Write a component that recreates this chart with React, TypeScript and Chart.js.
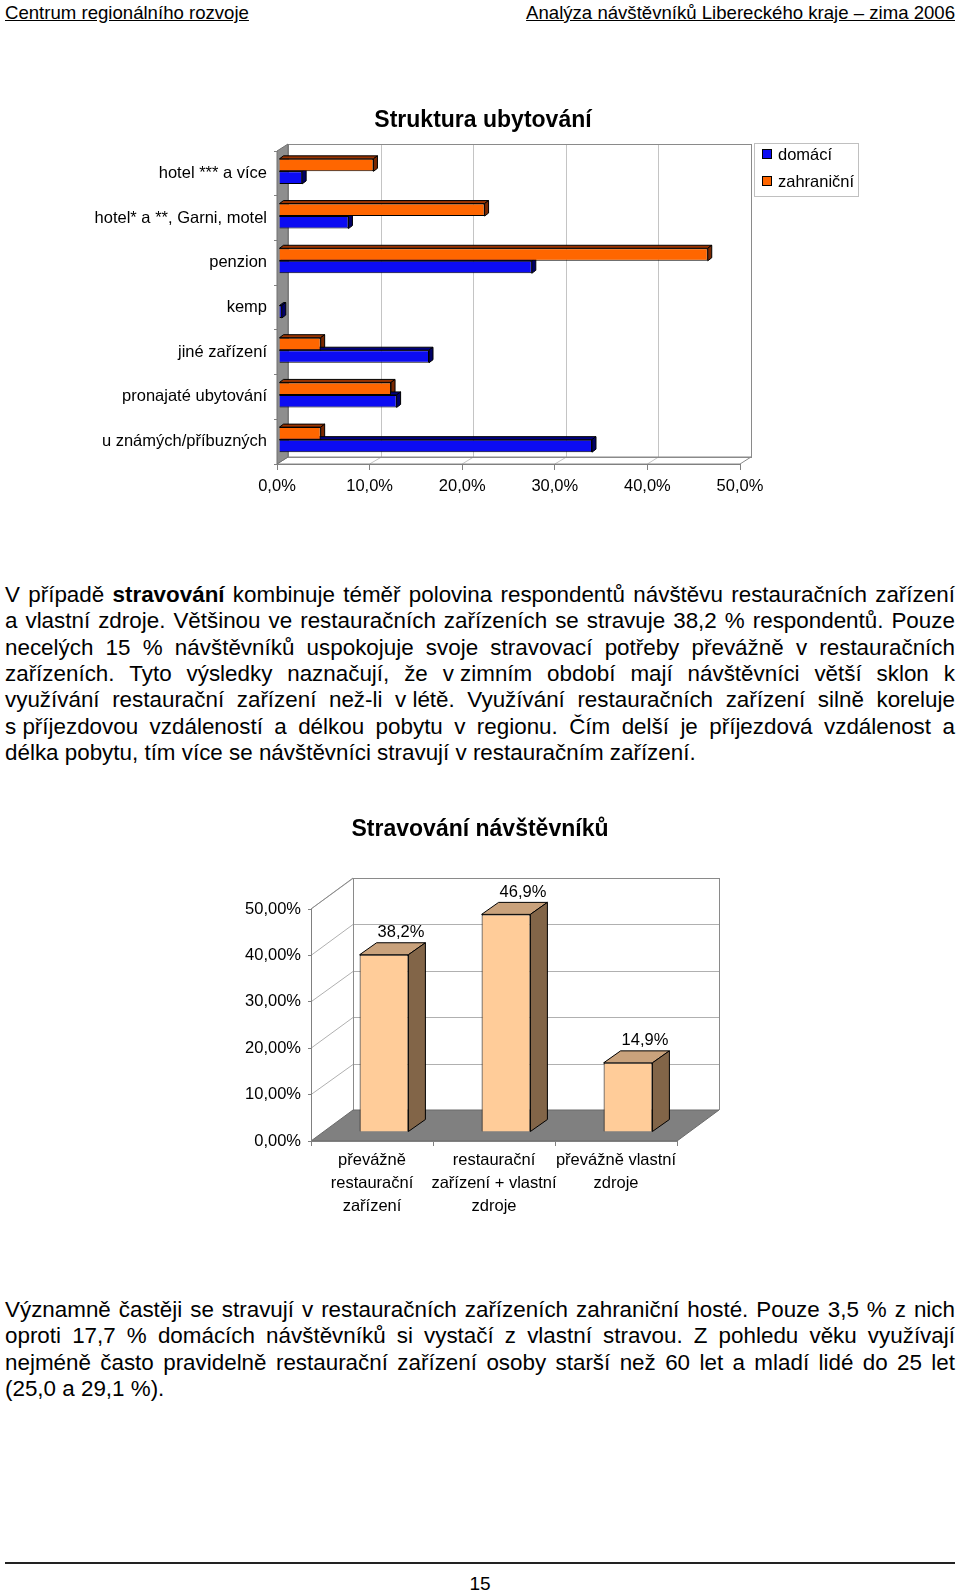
import React, { useEffect, useRef } from "react";
import { Chart, registerables } from "chart.js";

Chart.register(...registerables);

const FONT = '"Liberation Sans", Arial, Helvetica, sans-serif';

// ---------- Chart 1 data: Struktura ubytování ----------
const accomTitle = "Struktura ubytování";
const accomCategories = [
  "hotel *** a více",
  "hotel* a **, Garni, motel",
  "penzion",
  "kemp",
  "jiné zařízení",
  "pronajaté ubytování",
  "u známých/příbuzných",
];
const seriesNames = ["domácí", "zahraniční"];
const domesticValues = [2.5, 7.5, 27.3, 0.3, 16.2, 12.7, 33.8];
const foreignValues = [10.2, 22.2, 46.3, 0, 4.5, 12.1, 4.5];
const accomTicks = [0, 10, 20, 30, 40, 50];

// ---------- Chart 2 data: Stravování návštěvníků ----------
const foodTitle = "Stravování návštěvníků";
const foodCategories = [
  ["převážně", "restaurační", "zařízení"],
  ["restaurační", "zařízení + vlastní", "zdroje"],
  ["převážně vlastní", "zdroje"],
];
const foodValues = [38.2, 46.9, 14.9];
const foodTicks = [0, 10, 20, 30, 40, 50];

// ---------- Text ----------
const headerLeft = "Centrum regionálního rozvoje";
const headerRight = "Analýza návštěvníků Libereckého kraje – zima 2006";
const para1 = [
  "V případě **stravování** kombinuje téměř polovina respondentů návštěvu restauračních zařízení",
  "a vlastní zdroje. Většinou ve restauračních zařízeních se stravuje 38,2 % respondentů. Pouze",
  "necelých 15 % návštěvníků uspokojuje svoje stravovací potřeby převážně v restauračních",
  "zařízeních. Tyto výsledky naznačují, že v\u00A0zimním období mají návštěvníci větší sklon k",
  "využívání restaurační zařízení než-li v\u00A0létě. Využívání restauračních zařízení silně koreluje",
  "s\u00A0příjezdovou vzdáleností a délkou pobytu v regionu. Čím delší je příjezdová vzdálenost a",
  "délka pobytu, tím více se návštěvníci stravují v restauračním zařízení.",
];
const para2 = [
  "Významně častěji se stravují v restauračních zařízeních zahraniční hosté. Pouze 3,5 % z nich",
  "oproti 17,7 % domácích návštěvníků si vystačí z vlastní stravou. Z pohledu věku využívají",
  "nejméně často pravidelně restaurační zařízení osoby starší než 60 let a mladí lidé do 25 let",
  "(25,0 a 29,1 %).",
];
const pageNumber = "15";

const fmt1 = (v: number) => v.toFixed(1).replace(".", ",") + "%";
const fmt2 = (v: number) => v.toFixed(2).replace(".", ",") + "%";

function poly(ctx: any, pts: number[][], fill?: string, stroke?: string) {
  ctx.beginPath();
  ctx.moveTo(pts[0][0], pts[0][1]);
  for (let i = 1; i < pts.length; i++) ctx.lineTo(pts[i][0], pts[i][1]);
  ctx.closePath();
  if (fill) {
    ctx.fillStyle = fill;
    ctx.fill();
  }
  if (stroke) {
    ctx.strokeStyle = stroke;
    ctx.stroke();
  }
}
function seg(ctx: any, x1: number, y1: number, x2: number, y2: number) {
  ctx.beginPath();
  ctx.moveTo(x1, y1);
  ctx.lineTo(x2, y2);
  ctx.stroke();
}

// ---------- Chart 1 plugin (3D look, title, legend) ----------
const W1 = { dx: 11, dy: -7 };
const B1 = { dx: 4, dy: -3, tx: 2, ty: -2 };

const accomPlugin = {
  id: "accom3d",
  beforeDraw(chart: any) {
    const { ctx, chartArea: a, scales } = chart;
    const xs = scales.x;
    ctx.save();
    ctx.lineWidth = 1;
    const bl = a.left + W1.dx, bt = a.top + W1.dy, br = a.right + W1.dx, bb = a.bottom + W1.dy;
    ctx.fillStyle = "#ffffff";
    ctx.fillRect(bl, bt, br - bl, bb - bt);
    ctx.strokeStyle = "#c4c4c4";
    for (const v of accomTicks) {
      if (v === accomTicks[0] || v === accomTicks[accomTicks.length - 1]) continue;
      const px = Math.round(xs.getPixelForValue(v) + W1.dx) + 0.5;
      seg(ctx, px, bt, px, bb);
      seg(ctx, xs.getPixelForValue(v), a.bottom, px, bb);
    }
    ctx.strokeStyle = "#8a8a8a";
    ctx.strokeRect(Math.round(bl) + 0.5, Math.round(bt) + 0.5, br - bl, bb - bt);
    // floor
    poly(ctx, [[a.left, a.bottom], [bl, bb], [br, bb], [a.right, a.bottom]], undefined, "#8a8a8a");
    // left wall
    poly(ctx, [[a.left, a.top], [bl, bt], [bl, bb], [a.left, a.bottom]], "#8e8e8e", "#707070");
    ctx.restore();
  },
  beforeDatasetsDraw(chart: any) {
    const ctx = chart.ctx;
    ctx.save();
    ctx.translate(B1.tx, B1.ty);
    ctx.lineWidth = 1;
    chart.data.datasets.forEach((ds: any, i: number) => {
      const meta = chart.getDatasetMeta(i);
      meta.data.forEach((el: any, j: number) => {
        if (!ds.data[j]) return;
        const p = el.getProps(["x", "y", "base", "height"], true);
        const top = p.y - p.height / 2, bot = p.y + p.height / 2;
        const l = Math.min(p.base, p.x), r = Math.max(p.base, p.x);
        poly(ctx, [[l, top], [l + B1.dx, top + B1.dy], [r + B1.dx, top + B1.dy], [r, top]], ds.topColor, "#000");
        poly(ctx, [[r, top], [r + B1.dx, top + B1.dy], [r + B1.dx, bot + B1.dy], [r, bot]], ds.sideColor, "#000");
      });
    });
  },
  afterDatasetsDraw(chart: any) {
    chart.ctx.restore();
  },
  afterDraw(chart: any) {
    const ctx = chart.ctx;
    ctx.save();
    // title
    ctx.fillStyle = "#000";
    ctx.font = `bold 23px ${FONT}`;
    ctx.textAlign = "center";
    ctx.textBaseline = "middle";
    ctx.fillText(accomTitle, 483, 26);
    // legend (domácí first)
    const lx = 754, ly = 48, lw = 104, lh = 53;
    ctx.strokeStyle = "#c0c0c0";
    ctx.lineWidth = 1;
    ctx.strokeRect(lx + 0.5, ly + 0.5, lw, lh);
    ctx.font = `16.5px ${FONT}`;
    ctx.textAlign = "left";
    const order = [1, 0];
    order.forEach((di, k) => {
      const ds = chart.data.datasets[di];
      const cy = ly + 11 + k * 27;
      ctx.fillStyle = ds.backgroundColor;
      ctx.fillRect(lx + 8, cy - 5, 10, 10);
      ctx.strokeStyle = "#000";
      ctx.strokeRect(lx + 8.5, cy - 4.5, 9, 9);
      ctx.fillStyle = "#000";
      ctx.fillText(ds.label, lx + 24, cy + 1);
    });
    ctx.restore();
  },
};

// ---------- Chart 2 plugin ----------
const W2 = { dx: 42, dy: -31 };
const B2 = { dx: 17, dy: -12, tx: 12, ty: -9 };

const foodPlugin = {
  id: "food3d",
  beforeDraw(chart: any) {
    const { ctx, chartArea: a, scales } = chart;
    const ys = scales.y;
    ctx.save();
    ctx.lineWidth = 1;
    const bl = a.left + W2.dx, bt = a.top + W2.dy, br = a.right + W2.dx, bb = a.bottom + W2.dy;
    // back wall
    ctx.fillStyle = "#fff";
    ctx.fillRect(bl, bt, br - bl, bb - bt);
    ctx.strokeStyle = "#b0b0b0";
    for (const v of foodTicks) {
      if (v === foodTicks[0]) continue;
      const py = Math.round(ys.getPixelForValue(v) + W2.dy) + 0.5;
      seg(ctx, bl, py, br, py);
      seg(ctx, a.left, ys.getPixelForValue(v), bl, py);
    }
    ctx.strokeStyle = "#8a8a8a";
    seg(ctx, Math.round(bl) + 0.5, bt, Math.round(bl) + 0.5, bb);
    seg(ctx, bl, Math.round(bt) + 0.5, br, Math.round(bt) + 0.5);
    seg(ctx, Math.round(br) + 0.5, bt, Math.round(br) + 0.5, bb);
    seg(ctx, a.left, a.top, bl, bt);
    // floor
    poly(ctx, [[a.left, a.bottom], [bl, bb], [br, bb], [a.right, a.bottom]], "#808080", "#6a6a6a");
    ctx.restore();
  },
  beforeDatasetsDraw(chart: any) {
    const ctx = chart.ctx;
    ctx.save();
    ctx.translate(B2.tx, B2.ty);
    ctx.lineWidth = 1;
    chart.data.datasets.forEach((ds: any, i: number) => {
      const meta = chart.getDatasetMeta(i);
      meta.data.forEach((el: any) => {
        const p = el.getProps(["x", "y", "base", "width"], true);
        const l = p.x - p.width / 2, r = p.x + p.width / 2;
        const top = Math.min(p.y, p.base), bot = Math.max(p.y, p.base);
        poly(ctx, [[l, top], [l + B2.dx, top + B2.dy], [r + B2.dx, top + B2.dy], [r, top]], ds.topColor, "#000");
        poly(ctx, [[r, top], [r + B2.dx, top + B2.dy], [r + B2.dx, bot + B2.dy], [r, bot]], ds.sideColor, "#000");
      });
    });
  },
  afterDatasetsDraw(chart: any) {
    const ctx = chart.ctx;
    ctx.restore();
    ctx.save();
    ctx.fillStyle = "#000";
    ctx.font = `16.5px ${FONT}`;
    ctx.textAlign = "center";
    ctx.textBaseline = "middle";
    chart.data.datasets.forEach((ds: any, i: number) => {
      const meta = chart.getDatasetMeta(i);
      meta.data.forEach((el: any, j: number) => {
        const p = el.getProps(["x", "y"], true);
        ctx.fillText(fmt1(ds.data[j]), p.x + B2.tx + 17, p.y + B2.ty + B2.dy - 10);
      });
    });
    ctx.restore();
  },
  afterDraw(chart: any) {
    const ctx = chart.ctx;
    ctx.save();
    ctx.fillStyle = "#000";
    ctx.font = `bold 23px ${FONT}`;
    ctx.textAlign = "center";
    ctx.textBaseline = "middle";
    ctx.fillText(foodTitle, 480, 30);
    ctx.restore();
  },
};

function TextLine({ text, justify, top }: { text: string; justify: boolean; top: number }) {
  const base: any = {
    position: "absolute",
    left: 5,
    width: 950,
    top,
    height: 26,
    lineHeight: "26px",
    whiteSpace: "pre",
  };
  if (!justify) return <div style={base}>{text}</div>;
  const words = text.split(" ");
  return (
    <div style={{ ...base, display: "flex", justifyContent: "space-between" }}>
      {words.map((w, i) => {
        const bold = w.startsWith("**");
        return (
          <span key={i} style={{ fontWeight: bold ? "bold" : "normal" }}>
            {w.replace(/\*\*/g, "")}
          </span>
        );
      })}
    </div>
  );
}

export default function App() {
  const c1 = useRef<HTMLCanvasElement>(null);
  const c2 = useRef<HTMLCanvasElement>(null);

  useEffect(() => {
    const tickFont = { family: FONT, size: 16.5 };
    const ch1 = new Chart(c1.current as HTMLCanvasElement, {
      type: "bar",
      data: {
        labels: accomCategories,
        datasets: [
          {
            label: seriesNames[1],
            data: foreignValues,
            backgroundColor: "#FF6600",
            borderColor: "#000",
            borderWidth: 1,
            topColor: "#9A3300",
            sideColor: "#7A2800",
          } as any,
          {
            label: seriesNames[0],
            data: domesticValues,
            backgroundColor: "#0C0CF2",
            borderColor: "#000",
            borderWidth: 1,
            topColor: "#000080",
            sideColor: "#000066",
          } as any,
        ],
      },
      options: {
        indexAxis: "y",
        responsive: false,
        animation: false,
        layout: { padding: { left: 0, right: 220, top: 56, bottom: 0 } },
        datasets: { bar: { categoryPercentage: 0.56, barPercentage: 1, clip: false } as any },
        plugins: { legend: { display: false }, title: { display: false }, tooltip: { enabled: false } },
        scales: {
          x: {
            min: 0,
            max: 50,
            ticks: { stepSize: 10, callback: (v: any) => fmt1(Number(v)), font: tickFont, color: "#000", padding: 7, maxRotation: 0 },
            grid: { drawOnChartArea: false, tickLength: 6, color: "#808080" },
            border: { color: "#808080" },
            afterFit: (s: any) => {
              s.height = 51;
            },
          },
          y: {
            ticks: { font: tickFont, color: "#000", padding: 7, autoSkip: false },
            grid: { drawOnChartArea: false, tickLength: 3, color: "#808080" },
            border: { display: false },
            afterFit: (s: any) => {
              s.width = 277;
            },
          },
        },
      } as any,
      plugins: [accomPlugin],
    });

    const ch2 = new Chart(c2.current as HTMLCanvasElement, {
      type: "bar",
      data: {
        labels: foodCategories as any,
        datasets: [
          {
            label: foodTitle,
            data: foodValues,
            backgroundColor: "#FFCC99",
            borderColor: "#000",
            borderWidth: 1,
            categoryPercentage: 1,
            barPercentage: 0.4,
            clip: false,
            topColor: "#C9A27C",
            sideColor: "#826548",
          } as any,
        ],
      },
      options: {
        responsive: false,
        animation: false,
        layout: { padding: { left: 0, right: 283, top: 109, bottom: 0 } },
        plugins: { legend: { display: false }, title: { display: false }, tooltip: { enabled: false } },
        scales: {
          x: {
            ticks: {
              font: { family: FONT, size: 16.5, lineHeight: 23 / 16.5 },
              color: "#000",
              padding: 3,
              autoSkip: false,
              maxRotation: 0,
              minRotation: 0,
            },
            grid: { drawOnChartArea: false, tickLength: 5, color: "#808080" },
            border: { color: "#808080" },
            afterFit: (s: any) => {
              s.height = 89;
            },
          },
          y: {
            min: 0,
            max: 50,
            ticks: { stepSize: 10, callback: (v: any) => fmt2(Number(v)), font: tickFont, color: "#000", padding: 7 },
            grid: { drawOnChartArea: false, tickLength: 3, color: "#808080" },
            border: { color: "#808080" },
            afterFit: (s: any) => {
              s.width = 311;
            },
          },
        },
      } as any,
      plugins: [foodPlugin],
    });

    return () => {
      ch1.destroy();
      ch2.destroy();
    };
  }, []);

  const bodyFont = { fontFamily: FONT, fontSize: 22.4, color: "#000" };
  const LH = 26.3;

  return (
    <div style={{ position: "absolute", left: 0, top: 0, width: 960, height: 1591, background: "#fff", overflow: "hidden", ...bodyFont }}>
      <div
        style={{
          position: "absolute",
          left: 5,
          top: 2,
          width: 950,
          display: "flex",
          justifyContent: "space-between",
          fontSize: 18.6,
          lineHeight: "22px",
          whiteSpace: "pre",
        }}
      >
        <span style={{ textDecoration: "underline" }}>{headerLeft}</span>
        <span style={{ textDecoration: "underline" }}>{headerRight}</span>
      </div>

      <canvas ref={c1} width={960} height={420} style={{ position: "absolute", left: 0, top: 95, width: 960, height: 420 }} />

      {para1.map((t, i) => (
        <TextLine key={"p1" + i} text={t} justify={i < para1.length - 1} top={582 + i * LH} />
      ))}

      <canvas ref={c2} width={960} height={430} style={{ position: "absolute", left: 0, top: 800, width: 960, height: 430 }} />

      {para2.map((t, i) => (
        <TextLine key={"p2" + i} text={t} justify={i < para2.length - 1} top={1297 + i * LH} />
      ))}

      <div style={{ position: "absolute", left: 5, top: 1562, width: 950, height: 2, background: "#222" }} />
      <div style={{ position: "absolute", left: 0, width: 960, top: 1573, textAlign: "center", fontSize: 19, lineHeight: "22px" }}>
        {pageNumber}
      </div>
    </div>
  );
}
